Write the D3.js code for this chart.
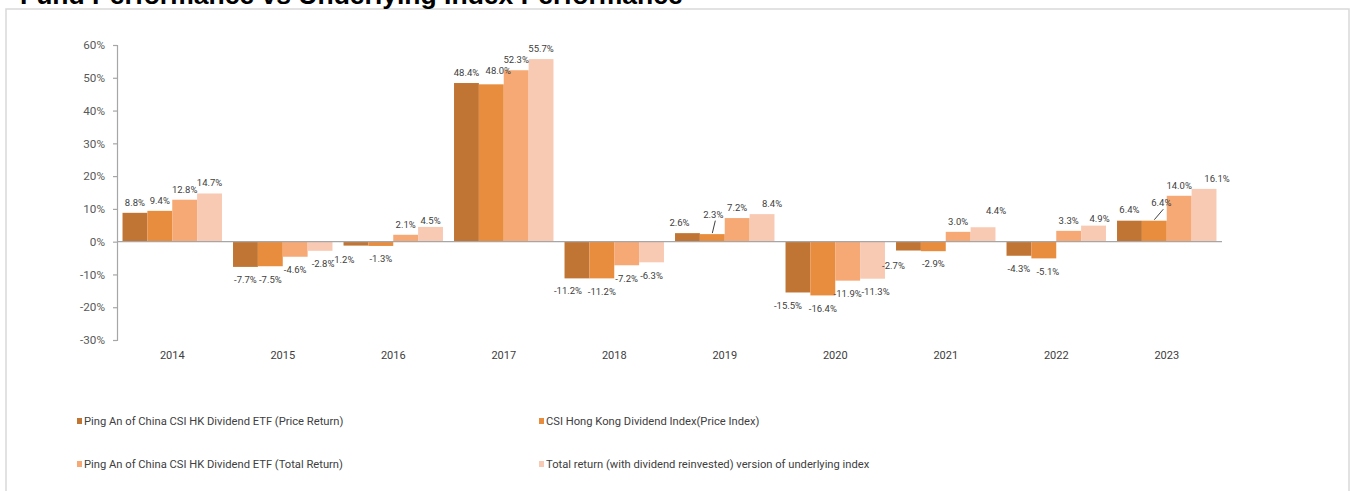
<!DOCTYPE html>
<html>
<head>
<meta charset="utf-8">
<script src="https://cdn.jsdelivr.net/npm/d3@7"></script>
<style>
    body { margin: 0; background: #fff; }
    svg text { font-family: "Roboto", "Liberation Sans", sans-serif; fill: #404040; }
</style>
</head>
<body>
<svg id="chart" width="1351" height="491"></svg>
<script>
const years = ["2014", "2015", "2016", "2017", "2018", "2019", "2020", "2021", "2022", "2023"];
const seriesNames = [
    "Ping An of China CSI HK Dividend ETF (Price Return)",
    "CSI Hong Kong Dividend Index(Price Index)",
    "Ping An of China CSI HK Dividend ETF (Total Return)",
    "Total return (with dividend reinvested) version of underlying index"
];
const etfPrice = [8.8, -7.7, -1.2, 48.4, -11.2, 2.6, -15.5, -2.7, -4.3, 6.4];
const indexPrice = [9.4, -7.5, -1.3, 48.0, -11.2, 2.3, -16.4, -2.9, -5.1, 6.4];
const etfTotal = [12.8, -4.6, 2.1, 52.3, -7.2, 7.2, -11.9, 3.0, 3.3, 14.0];
const indexTotal = [14.7, -2.8, 4.5, 55.7, -6.3, 8.4, -11.3, 4.4, 4.9, 16.1];
const yTicks = [-30, -20, -10, 0, 10, 20, 30, 40, 50, 60];

const seriesValues = [etfPrice, indexPrice, etfTotal, indexTotal];
const colors = ["#c07534", "#e88c3e", "#f6a975", "#f9cab3"];

// Hand placed labels in the original (Excel moved some of them around).
const labelNudge = {
    "2015|3": {dx: 3, dy: 0},
    "2016|0": {dx: -13, dy: 1},
    "2016|3": {dx: 0, dy: 4},
    "2017|1": {dx: 7, dy: -3},
    "2018|0": {dx: -9, dy: -1},
    "2019|0": {dx: -8, dy: 0},
    "2019|1": {dx: 1, dy: -9, leader: true},
    "2019|3": {dx: 10, dy: 0},
    "2020|0": {dx: -10, dy: 0},
    "2020|3": {dx: 3, dy: 0},
    "2021|0": {dx: -15, dy: 2},
    "2021|3": {dx: 13, dy: -6},
    "2022|1": {dx: 4, dy: 0},
    "2022|3": {dx: 6, dy: 4},
    "2023|1": {dx: 7, dy: -7, leader: true},
    "2023|3": {dx: 13, dy: 0}
};

const svg = d3.select("#chart");

// Frame and (cut off) title
svg.append("rect")
    .attr("x", 6).attr("y", 9)
    .attr("width", 1343).attr("height", 520)
    .attr("fill", "#fff")
    .attr("stroke", "#d9d9d9")
    .attr("stroke-width", 1.5);

svg.append("text")
    .attr("x", 20).attr("y", 4)
    .style("font-family", "'Liberation Sans', Arial, sans-serif")
    .style("font-weight", "bold")
    .style("font-size", "26.5px")
    .style("fill", "#000")
    .text("Fund Performance vs Underlying Index Performance");

const plotLeft = 117, plotRight = 1222, plotTop = 45, plotBottom = 340;

const y = d3.scaleLinear()
    .domain([-30, 60])
    .range([plotBottom, plotTop]);

const x = d3.scaleBand()
    .domain(years)
    .range([plotLeft, plotRight])
    .paddingInner(0.1)
    .paddingOuter(0.05);

const x1 = d3.scaleBand()
    .domain(d3.range(seriesValues.length))
    .range([0, x.bandwidth()]);

// Y axis
const yAxis = svg.append("g")
    .attr("transform", "translate(" + plotLeft + ",0)")
    .call(d3.axisLeft(y).tickValues(yTicks).tickSize(4).tickSizeOuter(4).tickFormat(d => d + "%"));
yAxis.select(".domain").attr("stroke", "#a6a6a6").attr("stroke-width", 1.2);
yAxis.selectAll(".tick line").attr("stroke", "#a6a6a6").attr("stroke-width", 1.2);
yAxis.selectAll(".tick text")
    .attr("x", -12)
    .style("font-size", "11.7px")
    .style("fill", "#595959");

// Bars
const groups = svg.selectAll(".year")
    .data(years)
    .enter()
    .append("g")
        .attr("class", "year")
        .attr("transform", d => "translate(" + x(d) + ",0)");

groups.selectAll("rect")
    .data((d, i) => seriesValues.map((s, k) => ({year: d, series: k, value: s[i]})))
    .enter()
    .append("rect")
        .attr("x", d => x1(d.series))
        .attr("y", d => y(Math.max(0, d.value)))
        .attr("width", x1.bandwidth())
        .attr("height", d => Math.abs(y(d.value) - y(0)))
        .attr("fill", d => colors[d.series]);

// Zero line
svg.append("line")
    .attr("x1", plotLeft).attr("x2", plotRight)
    .attr("y1", y(0)).attr("y2", y(0))
    .attr("stroke", "#a6a6a6")
    .attr("stroke-width", 1.3);

// Data labels
groups.each(function(year, i) {
    const g = d3.select(this);
    seriesValues.forEach(function(s, k) {
        const v = s[i];
        const nudge = labelNudge[year + "|" + k] || {dx: 0, dy: 0};
        const cx = x1(k) + x1.bandwidth() / 2;
        const cy = v >= 0 ? y(v) - 10.5 : y(v) + 13;
        const lx = cx + nudge.dx, ly = cy + nudge.dy;
        if (nudge.leader) {
            g.append("line")
                .attr("x1", cx).attr("y1", y(v) - 1)
                .attr("x2", lx + 2).attr("y2", ly + 6)
                .attr("stroke", "#404040")
                .attr("stroke-width", 1);
        }
        g.append("text")
            .attr("x", lx)
            .attr("y", ly + 3.3)
            .attr("text-anchor", "middle")
            .style("font-size", "9.5px")
            .text(v.toFixed(1) + "%");
    });
});

// Category labels
svg.selectAll(".xlabel")
    .data(years)
    .enter()
    .append("text")
        .attr("class", "xlabel")
        .attr("x", d => x(d) + x.bandwidth() / 2)
        .attr("y", 359)
        .attr("text-anchor", "middle")
        .style("font-size", "11px")
        .text(d => d);

// Legend
const legendPos = [[77, 421], [539, 421], [77, 464], [539, 464]];
const legend = svg.selectAll(".legend")
    .data(seriesNames)
    .enter()
    .append("g")
        .attr("class", "legend")
        .attr("transform", (d, i) => "translate(" + legendPos[i][0] + "," + legendPos[i][1] + ")");
legend.append("rect")
    .attr("x", 0).attr("y", -3)
    .attr("width", 5).attr("height", 6)
    .attr("fill", (d, i) => colors[i]);
legend.append("text")
    .attr("x", 7)
    .attr("y", 4)
    .style("font-size", "11.2px")
    .text(d => d);
</script>
</body>
</html>
